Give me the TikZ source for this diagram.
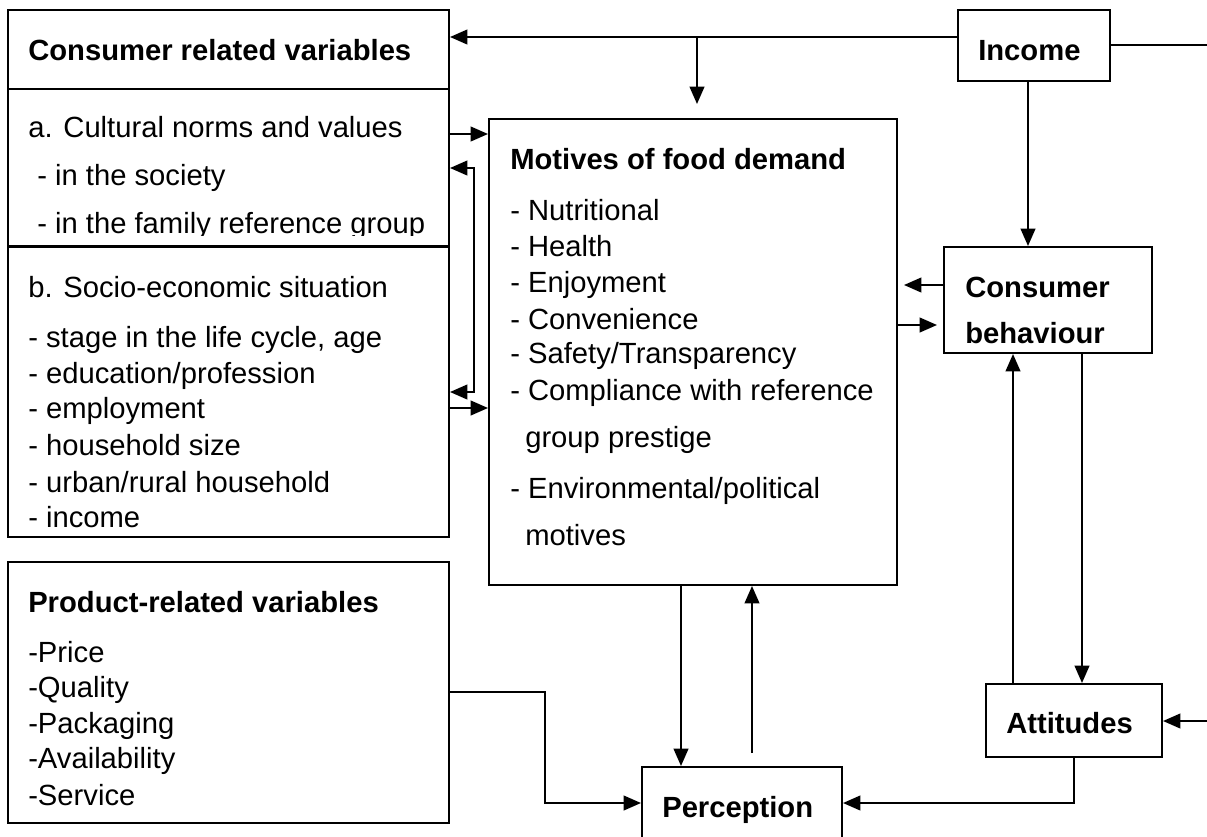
\documentclass[tikz,border=0pt]{standalone}
\usepackage{fontspec}
\setmainfont{Liberation Sans}
\usetikzlibrary{arrows.meta,positioning,fit}

\begin{document}
\begin{tikzpicture}[x=0.75pt,y=-0.75pt,
        box/.style={draw,line width=1.5pt,inner sep=0pt},
        txt/.style={anchor=base west,inner sep=0pt,
                    font=\fontsize{21.9}{26}\selectfont},
        hd/.style={txt,font=\fontsize{21.9}{26}\selectfont\bfseries},
        arr/.style={line width=1.5pt,-{Triangle[length=13pt,width=11pt]}},
        arrb/.style={line width=1.5pt,
                     {Triangle[length=13pt,width=11pt]}-{Triangle[length=13pt,width=11pt]}},
        ln/.style={line width=1.5pt}]

  \useasboundingbox (0,0) rectangle (1207,836);
  \clip (0,0) rectangle (1207,836);

  % boxes
  \node[box,fit={(8,10) (449,89)}]      (crvhead) {};
  \node[box,fit={(8,89) (449,247)}]     (crva) {};
  \node[box,fit={(8,246) (449,537)}]    (crvb) {};
  \node[box,fit={(8,562) (449,823)}]    (prv) {};
  \node[box,fit={(489,119) (897,585)}]  (mot) {};
  \node[box,fit={(958,10) (1110,81)}]   (inc) {};
  \node[box,fit={(944,247) (1152,353)}] (cb) {};
  \node[box,fit={(986,684) (1162,757)}] (att) {};
  \node[box,fit={(642,767) (842,850)}]  (per) {};

  % consumer related variables
  \node[hd]  (crvt) at (28,60)  {Consumer related variables};
  \node[txt] (cra1) at (28,137) {a. Cultural norms and values};
  \node[txt] (cra2) at (37,185) {- in the society};
  \begin{scope}
    \clip (8,200) rectangle (449,235);
    \node[txt] (cra3) at (37,233) {- in the family reference group};
  \end{scope}
  \node[txt] (crb0) at (28,297) {b. Socio-economic situation};
  \foreach \yy/\lbl [count=\i] in {347/{- stage in the life cycle, age},
      383/{- education/profession},418/{- employment},
      455/{- household size},492/{- urban/rural household},527/{- income}}{
    \node[txt] (crb\i) at (28,\yy) {\lbl};
  }

  % motives
  \node[hd] (mott) at (510,169) {Motives of food demand};
  \foreach \yy/\lbl [count=\i] in {220/{- Nutritional},256/{- Health},
      292/{- Enjoyment},329/{- Convenience},363/{- Safety/Transparency},
      400/{- Compliance with reference},498/{- Environmental/political}}{
    \node[txt] (mot\i) at (510,\yy) {\lbl};
  }
  \node[txt] (mot3b) at (525,447) {group prestige};
  \node[txt] (mot7b) at (525,545) {motives};

  % product related variables
  \node[hd] (prvt) at (28,612) {Product-related variables};
  \foreach \yy/\lbl [count=\i] in {662/-Price,697/-Quality,733/-Packaging,
      768/-Availability,805/-Service}{
    \node[txt] (prv\i) at (28,\yy) {\lbl};
  }

  % right hand boxes
  \node[hd] (inct) at (978,60)  {Income};
  \node[hd] (cbt1) at (965,297) {Consumer};
  \node[hd] (cbt2) at (965,343) {behaviour};
  \node[hd] (attt) at (1006,733) {Attitudes};
  \node[hd] (pert) at (662,817) {Perception};

  % income
  \coordinate (incL) at (697,37);
  \coordinate (incD) at (697,104);
  \coordinate (incR) at (1207,45);
  \coordinate (incS) at (1028,0);
  \draw[arr] (inc.west |- incL) -- (crvhead.east |- incL);
  \draw[arr] (incL) -- (incD);
  \draw[ln] (inc.east |- incR) -- (incR);
  \draw[arr] (inc.south -| incS) -- (cb.north -| incS);

  % consumer variables -> motives
  \coordinate (ya) at (0,134);
  \coordinate (yb) at (0,408);
  \coordinate (fbT) at (474,168);
  \coordinate (fbB) at (474,392);
  \draw[arr] (crva.east |- ya) -- (mot.west |- ya);
  \draw[arr] (crvb.east |- yb) -- (mot.west |- yb);
  \draw[arrb] (crva.east |- fbT) -- (fbT) -- (fbB) -- (crvb.east |- fbB);

  % motives <-> behaviour
  \coordinate (cbL) at (904,285);
  \coordinate (motR) at (937,325);
  \draw[arr] (cb.west |- cbL) -- (cbL);
  \draw[arr] (mot.east |- motR) -- (motR);

  % behaviour <-> attitudes
  \coordinate (up) at (1013,0);
  \coordinate (dn) at (1082,0);
  \coordinate (attR) at (1207,721);
  \coordinate (attB) at (1074,803);
  \draw[arr] (att.north -| up) -- (cb.south -| up);
  \draw[arr] (cb.south -| dn) -- (att.north -| dn);
  \draw[arr] (attR) -- (att.east |- attR);
  \draw[arr] (att.south -| attB) -- (attB) -- (per.east |- attB);

  % perception
  \coordinate (prvR) at (545,692);
  \coordinate (prvC) at (545,803);
  \coordinate (mp) at (681,0);
  \coordinate (pm) at (752,753);
  \draw[arr] (prv.east |- prvR) -- (prvR) -- (prvC) -- (per.west |- prvC);
  \draw[arr] (mot.south -| mp) -- (per.north -| mp);
  \draw[arr] (pm) -- (mot.south -| pm);
\end{tikzpicture}
\end{document}
